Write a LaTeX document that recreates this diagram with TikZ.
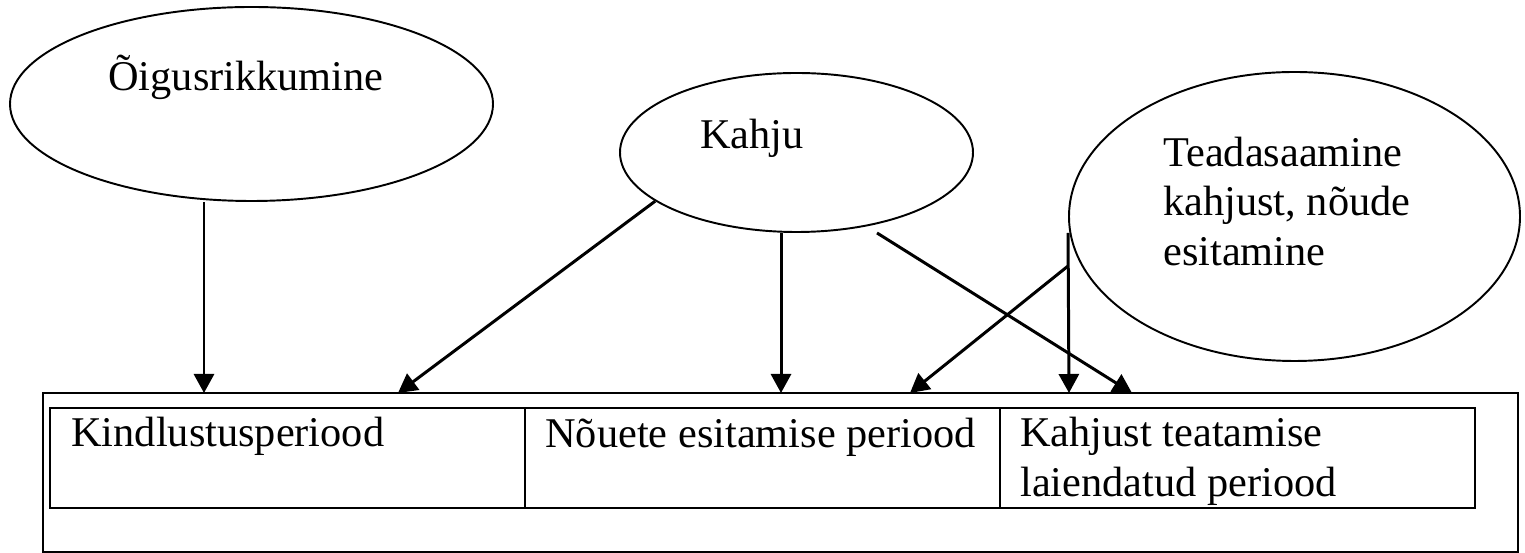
\documentclass[tikz,border=0pt]{standalone}
\usepackage{fontspec}
\setmainfont{Liberation Serif}
\usetikzlibrary{shapes.geometric,arrows.meta,positioning}

\begin{document}
\begin{tikzpicture}
    \useasboundingbox (0,0) rectangle (30.5,11.06);

        \begin{scope}[every node/.style={ellipse,draw=black,line width=1.1pt,inner sep=0pt}]
            \node (rikkumine) [minimum width=9.66cm,minimum height=3.88cm] at (5.03,8.98) {};
            \node (kahju) [minimum width=7.06cm,minimum height=3.18cm] at (15.93,8.01) {};
            \node (teade) [minimum width=9.02cm,minimum height=5.78cm] at (25.89,6.73) {};
        \end{scope}

        \begin{scope}[every node/.style={rectangle,draw=black,inner sep=0pt,outer sep=0pt}]
            \node (raam) [line width=1.2pt,minimum width=29.5cm,minimum height=3.18cm,anchor=south west] at (0.86,0.02) {};
            \node (periood1) [line width=0.8pt,minimum width=9.5cm,minimum height=2cm,anchor=south west] at (1.0,0.9) {};
            \node (periood2) [line width=0.8pt,minimum width=9.5cm,minimum height=2cm,right=0pt of periood1] {};
            \node (periood3) [line width=0.8pt,minimum width=9.5cm,minimum height=2cm,right=0pt of periood2] {};
        \end{scope}

        % multi-line texts: base = last line
        \begin{scope}[every node/.style={anchor=base west,inner sep=0pt,align=left,font=\fontsize{24.1}{28.45}\selectfont}]
            \node (tekst1) at (2.16,9.24) {Õigusrikkumine};
            \node (tekst2) at (14.0,8.08) {Kahju};
            \node (tekst3) at (23.26,5.74) {Teadasaamine\\kahjust, nõude\\esitamine};
            \node (tekst4) at (1.42,2.12) {Kindlustusperiood};
            \node (tekst5) at (10.9,2.10) {Nõuete esitamise periood};
            \node (tekst6) at (20.4,1.12) {Kahjust teatamise\\laiendatud periood};
        \end{scope}

        \coordinate (a1) at (4.08,3.2);
        \coordinate (a2) at (7.96,3.2);
        \coordinate (a3) at (15.62,3.2);
        \coordinate (a4) at (18.2,3.2);
        \coordinate (a5) at (21.38,3.2);
        \coordinate (a6) at (22.64,3.2);

        \begin{scope}[every edge/.style={draw=black,line width=1.7pt}]
            \path [-{Triangle[length=0.38cm,width=0.4cm]}] (rikkumine.south -| a1) edge (a1);
            \path [-{Triangle[length=0.38cm,width=0.4cm]}] (kahju.199) edge (a2);
            \path [-{Triangle[length=0.38cm,width=0.4cm]}] (kahju.south -| a3) edge (a3);
            \path [-{Triangle[length=0.38cm,width=0.4cm]}] ([xshift=1.61cm]kahju.south) edge (a6);
            \path [-{Triangle[length=0.38cm,width=0.4cm]}] ([yshift=-0.99cm]teade.west) edge (a4);
            \path [-{Triangle[length=0.38cm,width=0.4cm]}] ([yshift=-0.33cm]teade.west) edge (a5);
        \end{scope}

    \end{tikzpicture}
\end{document}
